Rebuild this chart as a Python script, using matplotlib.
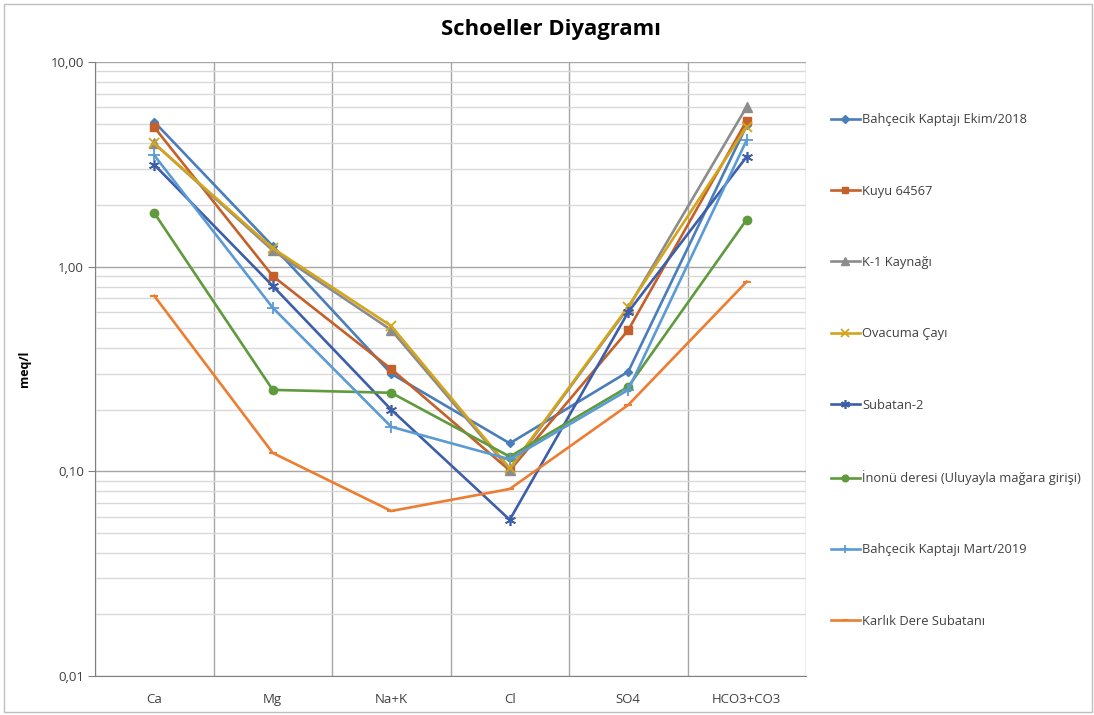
import matplotlib
matplotlib.use("Agg")
import matplotlib.pyplot as plt
from matplotlib.ticker import FixedLocator, LogLocator, NullFormatter, FixedFormatter
from matplotlib.patches import Rectangle

plt.rcParams['font.family'] = ['Open Sans', 'DejaVu Sans']

ions = ["Ca", "Mg", "Na+K", "Cl", "SO4", "HCO3+CO3"]

bahcecik_ekim_2018 = [5.1, 1.26, 0.30, 0.137, 0.307, 4.9]
kuyu_64567 = [4.8, 0.90, 0.316, 0.101, 0.49, 5.17]
k1_kaynagi = [4.0, 1.20, 0.49, 0.102, 0.63, 6.05]
ovacuma_cayi = [4.0, 1.23, 0.513, 0.1035, 0.638, 4.83]
subatan_2 = [3.15, 0.805, 0.20, 0.058, 0.60, 3.45]
inonu_deresi = [1.83, 0.25, 0.242, 0.118, 0.259, 1.70]
bahcecik_mart_2019 = [3.5, 0.63, 0.165, 0.1145, 0.25, 4.16]
karlik_dere = [0.72, 0.123, 0.064, 0.082, 0.211, 0.845]

series_names = [
    "Bahçecik Kaptajı Ekim/2018",
    "Kuyu 64567",
    "K-1 Kaynağı",
    "Ovacuma Çayı",
    "Subatan-2",
    "İnonü deresi (Uluyayla mağara girişi)",
    "Bahçecik Kaptajı Mart/2019",
    "Karlık Dere Subatanı",
]
series_values = [bahcecik_ekim_2018, kuyu_64567, k1_kaynagi, ovacuma_cayi,
                 subatan_2, inonu_deresi, bahcecik_mart_2019, karlik_dere]

styles = [
    dict(color="#4a7ebb", marker="D", ms=4.5),
    dict(color="#c5602a", marker="s", ms=6),
    dict(color="#8c8c8c", marker="^", ms=7),
    dict(color="#d4a51a", marker="x", ms=7, mew=1.3),
    dict(color="#3d5ea8", marker=(6, 2, 0), ms=8, mew=1.2),
    dict(color="#5f9a3c", marker="o", ms=6),
    dict(color="#5b9bd5", marker="+", ms=8, mew=1.3),
    dict(color="#ed7d31", marker="_", ms=6, mew=1.5),
]

fig = plt.figure(figsize=(10.94, 7.15), dpi=100)
ax = fig.add_axes([95 / 1094, 1 - 676 / 715, (806 - 95) / 1094, (676 - 62) / 715])

x = list(range(len(ions)))
for name, vals, st in zip(series_names, series_values, styles):
    ax.plot(x, vals, label=name, lw=1.9, color=st["color"], marker=st["marker"],
            ms=st["ms"], mew=st.get("mew", 1.0), mec=st["color"], mfc=st["color"],
            zorder=3)

ax.set_yscale("log")
ax.set_ylim(0.01, 10)
ax.set_xlim(-0.5, len(ions) - 0.5)

ax.yaxis.set_major_locator(FixedLocator([0.01, 0.1, 1, 10]))
ax.yaxis.set_major_formatter(FixedFormatter(["0,01", "0,10", "1,00", "10,00"]))
ax.yaxis.set_minor_locator(LogLocator(base=10, subs=range(2, 10)))
ax.yaxis.set_minor_formatter(NullFormatter())

ax.set_xticks(x)
ax.set_xticklabels(ions)
ax.set_xticks([i - 0.5 for i in range(len(ions) + 1)], minor=True)

ax.grid(which="major", axis="y", color="#a6a6a6", lw=1.0, zorder=0)
ax.grid(which="minor", axis="y", color="#d9d9d9", lw=1.0, zorder=0)
ax.grid(which="minor", axis="x", color="#a6a6a6", lw=1.0, zorder=0)

ax.tick_params(axis="x", which="both", length=0, labelsize=9.5, pad=12, colors="#404040")
ax.tick_params(axis="y", which="major", length=5, color="#808080", labelsize=9.5,
               colors="#404040", pad=3)
ax.tick_params(axis="y", which="minor", length=0)

for side in ("top", "right"):
    ax.spines[side].set_visible(False)
ax.spines["left"].set_color("#808080")
ax.spines["bottom"].set_color("#808080")

ax.set_ylabel("meq/l", fontsize=9, fontweight="bold", labelpad=14)
fig.text(551 / 1094, 1 - 30 / 715, "Schoeller Diyagramı", ha="center", va="center",
         fontsize=15.8, fontweight="bold", color="#000000")

leg = ax.legend(loc="upper left", bbox_to_anchor=(826 / 1094, 1 - 108 / 715),
                bbox_transform=fig.transFigure, frameon=False, fontsize=9.3,
                labelspacing=4.52, handlelength=2.2, handletextpad=0.2,
                borderaxespad=0, markerscale=0.8)
for t in leg.get_texts():
    t.set_color("#404040")

fig.patches.append(Rectangle((4 / 1094, 1 - 712 / 715), 1088 / 1094, 708 / 715,
                             transform=fig.transFigure, fill=False,
                             edgecolor="#bfbfbf", lw=1.0))

fig.savefig("out.png", dpi=100)
